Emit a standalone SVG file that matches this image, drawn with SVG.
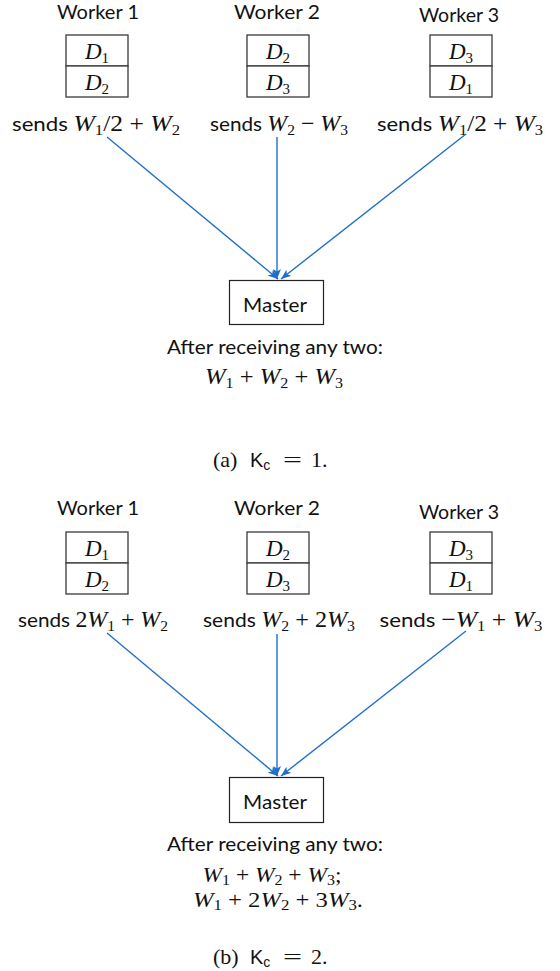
<svg xmlns="http://www.w3.org/2000/svg" width="560" height="971" viewBox="0 0 560 971">
<defs>
<style>
.sans{font-family:Lato,"Liberation Sans",sans-serif;font-size:20px;fill:#111}
.math{font-family:"Liberation Serif",serif;font-style:italic;font-size:23px;fill:#111}
.math2{font-family:"Liberation Serif",serif;font-style:italic;font-size:22px;fill:#111}
.sub{font-style:normal;font-size:15px}
.up{font-style:normal}
.cell{fill:#fff;stroke:#3a3a3a;stroke-width:1.3}
.master{fill:#fff;stroke:#222;stroke-width:1.2}
.arrow{stroke:#1f6fc8;stroke-width:1.4;fill:none;marker-end:url(#ah)}
.cap{font-family:"Liberation Serif",serif;font-size:22px;fill:#111}
.capsans{font-family:"Liberation Sans","DejaVu Sans",sans-serif;font-size:20px;fill:#111}
</style>
<marker id="ah" viewBox="0 0 10 8" refX="10" refY="4" markerWidth="10" markerHeight="8" markerUnits="userSpaceOnUse" orient="auto">
<path d="M0,0 L10,4 L0,8 L2.5,4 z" fill="#1f6fc8"/>
</marker>
</defs>

<!-- Panel (a) -->
<g id="worker1-a">
<text class="sans" x="98" y="19" text-anchor="middle" textLength="82" lengthAdjust="spacingAndGlyphs">Worker 1</text>
<rect class="cell" x="66" y="35" width="62" height="31"/>
<rect class="cell" x="66" y="66" width="62" height="31"/>
<text class="math" x="97" y="59" text-anchor="middle">D<tspan class="sub" dy="4">1</tspan></text>
<text class="math" x="97" y="90" text-anchor="middle">D<tspan class="sub" dy="4">2</tspan></text>
<text x="96" y="131" text-anchor="middle" textLength="168" lengthAdjust="spacingAndGlyphs"><tspan class="sans">sends </tspan><tspan class="math">W<tspan class="sub" dy="4">1</tspan><tspan class="up" dy="-4">/2 + </tspan>W<tspan class="sub" dy="4">2</tspan></tspan></text>
</g>
<g id="worker2-a">
<text class="sans" x="277" y="19" text-anchor="middle" textLength="86" lengthAdjust="spacingAndGlyphs">Worker 2</text>
<rect class="cell" x="247" y="35" width="62" height="31"/>
<rect class="cell" x="247" y="66" width="62" height="31"/>
<text class="math" x="278" y="59" text-anchor="middle">D<tspan class="sub" dy="4">2</tspan></text>
<text class="math" x="278" y="90" text-anchor="middle">D<tspan class="sub" dy="4">3</tspan></text>
<text x="279" y="131" text-anchor="middle" textLength="138" lengthAdjust="spacingAndGlyphs"><tspan class="sans">sends </tspan><tspan class="math">W<tspan class="sub" dy="4">2</tspan><tspan class="up" dy="-4"> − </tspan>W<tspan class="sub" dy="4">3</tspan></tspan></text>
</g>
<g id="worker3-a">
<text class="sans" x="459" y="22" text-anchor="middle" textLength="80" lengthAdjust="spacingAndGlyphs">Worker 3</text>
<rect class="cell" x="430" y="35" width="62" height="31"/>
<rect class="cell" x="430" y="66" width="62" height="31"/>
<text class="math" x="461" y="59" text-anchor="middle">D<tspan class="sub" dy="4">3</tspan></text>
<text class="math" x="461" y="90" text-anchor="middle">D<tspan class="sub" dy="4">1</tspan></text>
<text x="460" y="131" text-anchor="middle" textLength="166" lengthAdjust="spacingAndGlyphs"><tspan class="sans">sends </tspan><tspan class="math">W<tspan class="sub" dy="4">1</tspan><tspan class="up" dy="-4">/2 + </tspan>W<tspan class="sub" dy="4">3</tspan></tspan></text>
</g>
<g id="master-a">
<rect class="master" x="229.5" y="280.5" width="94" height="44"/>
<text class="sans" x="275" y="312" text-anchor="middle" textLength="64" lengthAdjust="spacingAndGlyphs">Master</text>
<text class="sans" x="275" y="354" text-anchor="middle" textLength="216" lengthAdjust="spacingAndGlyphs">After receiving any two:</text>
<text class="math" x="274" y="384" text-anchor="middle" textLength="138" lengthAdjust="spacingAndGlyphs">W<tspan class="sub" dy="4">1</tspan><tspan class="up" dy="-4"> + </tspan>W<tspan class="sub" dy="4">2</tspan><tspan class="up" dy="-4"> + </tspan>W<tspan class="sub" dy="4">3</tspan></text>
</g>
<g id="caption-a">
<text class="cap" x="213" y="467">(a)</text>
<text class="capsans" x="250" y="467">K<tspan font-size="14" dy="3">c</tspan></text>
<text class="cap" x="283" y="467" textLength="19" lengthAdjust="spacingAndGlyphs">=</text>
<text class="cap" x="311" y="467">1.</text>
</g>

<!-- Panel (b) -->
<g id="worker1-b">
<text class="sans" x="98" y="515" text-anchor="middle" textLength="82" lengthAdjust="spacingAndGlyphs">Worker 1</text>
<rect class="cell" x="66" y="532" width="62" height="31"/>
<rect class="cell" x="66" y="563" width="62" height="31"/>
<text class="math" x="97" y="556" text-anchor="middle">D<tspan class="sub" dy="4">1</tspan></text>
<text class="math" x="97" y="587" text-anchor="middle">D<tspan class="sub" dy="4">2</tspan></text>
<text x="93" y="627" text-anchor="middle" textLength="150" lengthAdjust="spacingAndGlyphs"><tspan class="sans">sends </tspan><tspan class="math"><tspan class="up">2</tspan>W<tspan class="sub" dy="4">1</tspan><tspan class="up" dy="-4"> + </tspan>W<tspan class="sub" dy="4">2</tspan></tspan></text>
</g>
<g id="worker2-b">
<text class="sans" x="277" y="515" text-anchor="middle" textLength="86" lengthAdjust="spacingAndGlyphs">Worker 2</text>
<rect class="cell" x="247" y="532" width="62" height="31"/>
<rect class="cell" x="247" y="563" width="62" height="31"/>
<text class="math" x="278" y="556" text-anchor="middle">D<tspan class="sub" dy="4">2</tspan></text>
<text class="math" x="278" y="587" text-anchor="middle">D<tspan class="sub" dy="4">3</tspan></text>
<text x="279" y="627" text-anchor="middle" textLength="152" lengthAdjust="spacingAndGlyphs"><tspan class="sans">sends </tspan><tspan class="math">W<tspan class="sub" dy="4">2</tspan><tspan class="up" dy="-4"> + 2</tspan>W<tspan class="sub" dy="4">3</tspan></tspan></text>
</g>
<g id="worker3-b">
<text class="sans" x="459" y="519" text-anchor="middle" textLength="80" lengthAdjust="spacingAndGlyphs">Worker 3</text>
<rect class="cell" x="430" y="532" width="62" height="31"/>
<rect class="cell" x="430" y="563" width="62" height="31"/>
<text class="math" x="461" y="556" text-anchor="middle">D<tspan class="sub" dy="4">3</tspan></text>
<text class="math" x="461" y="587" text-anchor="middle">D<tspan class="sub" dy="4">1</tspan></text>
<text x="461" y="627" text-anchor="middle" textLength="163" lengthAdjust="spacingAndGlyphs"><tspan class="sans">sends </tspan><tspan class="math"><tspan class="up">−</tspan>W<tspan class="sub" dy="4">1</tspan><tspan class="up" dy="-4"> + </tspan>W<tspan class="sub" dy="4">3</tspan></tspan></text>
</g>
<g id="master-b">
<rect class="master" x="229.5" y="777.5" width="94" height="45"/>
<text class="sans" x="275" y="809" text-anchor="middle" textLength="64" lengthAdjust="spacingAndGlyphs">Master</text>
<text class="sans" x="275" y="851" text-anchor="middle" textLength="216" lengthAdjust="spacingAndGlyphs">After receiving any two:</text>
<text class="math2" x="272" y="882" text-anchor="middle" textLength="139" lengthAdjust="spacingAndGlyphs">W<tspan class="sub" dy="3">1</tspan><tspan class="up" dy="-3"> + </tspan>W<tspan class="sub" dy="3">2</tspan><tspan class="up" dy="-3"> + </tspan>W<tspan class="sub" dy="3">3</tspan><tspan class="up" dy="-3">;</tspan></text>
<text class="math2" x="278" y="907" text-anchor="middle" textLength="170" lengthAdjust="spacingAndGlyphs">W<tspan class="sub" dy="3">1</tspan><tspan class="up" dy="-3"> + 2</tspan>W<tspan class="sub" dy="3">2</tspan><tspan class="up" dy="-3"> + 3</tspan>W<tspan class="sub" dy="3">3</tspan><tspan class="up" dy="-3">.</tspan></text>
</g>
<g id="caption-b">
<text class="cap" x="213" y="964">(b)</text>
<text class="capsans" x="250" y="964">K<tspan font-size="14" dy="3">c</tspan></text>
<text class="cap" x="283" y="964" textLength="19" lengthAdjust="spacingAndGlyphs">=</text>
<text class="cap" x="311" y="964">2.</text>
</g>

<g id="connectors">
<line class="arrow" x1="107" y1="137" x2="278" y2="279"/>
<line class="arrow" x1="277" y1="137" x2="277" y2="279"/>
<line class="arrow" x1="466" y1="134" x2="281" y2="279"/>
<line class="arrow" x1="107" y1="633" x2="278" y2="776"/>
<line class="arrow" x1="277" y1="634" x2="277" y2="776"/>
<line class="arrow" x1="466" y1="631" x2="281" y2="776"/>
</g>
</svg>
